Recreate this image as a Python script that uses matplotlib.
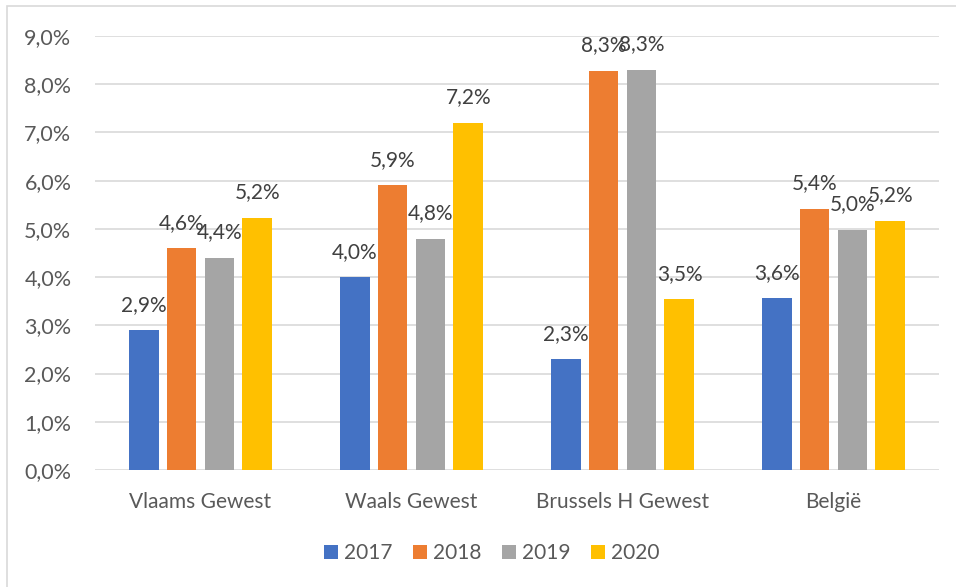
import numpy as np
import matplotlib.pyplot as plt
from matplotlib.patches import Rectangle

regions = ["Vlaams Gewest", "Waals Gewest", "Brussels H Gewest", "België"]
years = ["2017", "2018", "2019", "2020"]
share_2017 = [2.9, 4.0, 2.3, 3.56]
share_2018 = [4.6, 5.9, 8.28, 5.42]
share_2019 = [4.4, 4.8, 8.3, 4.98]
share_2020 = [5.23, 7.2, 3.54, 5.17]
colors = ["#4472C4", "#ED7D31", "#A5A5A5", "#FFC000"]

plt.rcParams["font.family"] = ["Lato", "DejaVu Sans"]
text_color = "#595959"

fig = plt.figure(figsize=(9.56, 5.87), dpi=100)
W, H = 956, 587
ax = fig.add_axes([95 / W, 117 / H, 844 / W, 434 / H])

# chart frame (only top and left edges fall inside the image)
fig.add_artist(Rectangle((7 / W, -0.2), 1.2, 1.2 - 6 / H, transform=fig.transFigure,
                         fill=False, edgecolor="#D9D9D9", linewidth=1.2))

x = np.arange(len(regions))
width = 0.142
offsets = [-0.27, -0.09, 0.09, 0.27]
series = [share_2017, share_2018, share_2019, share_2020]

for vals, off, col, yr in zip(series, offsets, colors, years):
    bars = ax.bar(x + off, vals, width, color=col, label=yr, zorder=3)
    for b, v in zip(bars, vals):
        ax.annotate(f"{v:.1f}%".replace(".", ","),
                    (b.get_x() + b.get_width() / 2, v),
                    xytext=(0, 11), textcoords="offset points",
                    ha="center", va="bottom", fontsize=15, color="#404040")

ax.set_xlim(-0.5, 3.5)
ax.set_ylim(0, 9)
ax.set_yticks(np.arange(0, 10, 1))
ax.set_yticklabels([f"{v:.1f}%".replace(".", ",") for v in range(10)])
ax.set_xticks(x)
ax.set_xticklabels(regions)
ax.yaxis.grid(True, color="#D9D9D9", linewidth=1.2, zorder=0)
ax.tick_params(axis="y", length=0, pad=17, labelsize=15.5, labelcolor=text_color)
ax.tick_params(axis="x", length=0, pad=16, labelsize=15, labelcolor=text_color)
for s in ax.spines.values():
    s.set_visible(False)

fig.legend(loc="center", bbox_to_anchor=(492 / W, 1 - 553 / H), ncol=4,
           frameon=False, fontsize=15, handlelength=0.65, handleheight=0.65,
           handletextpad=0.3, columnspacing=1.0, labelcolor=text_color)

fig.savefig("out.png", dpi=100)
